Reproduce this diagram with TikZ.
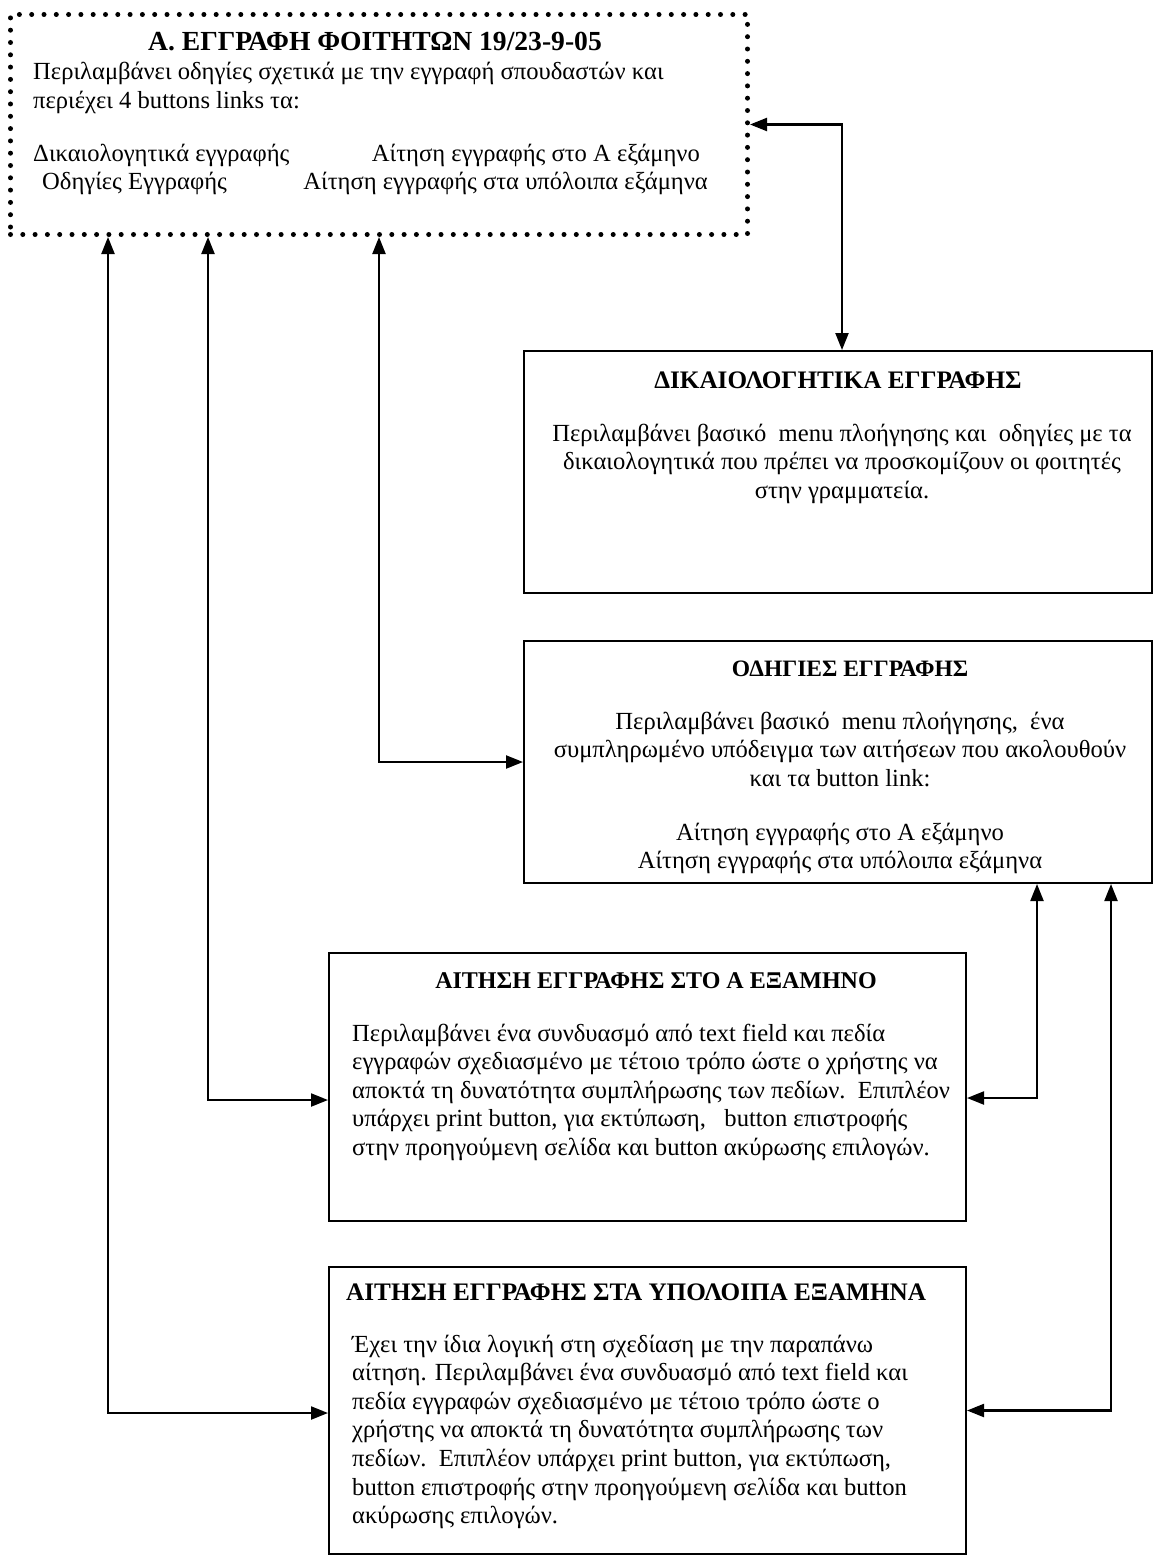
\documentclass[tikz,border=0pt]{standalone}
\usepackage{fontspec}
\setmainfont{Liberation Serif}
\usetikzlibrary{arrows.meta}
\newcommand\tblock[3]{\parbox[t]{#1}{#2#3}}

\begin{document}
\begin{tikzpicture}[x=1pt,y=-1pt,
  box/.style={draw, line width=2pt, inner sep=0pt, anchor=north west},
  dotbox/.style={draw, line width=5pt, line cap=round, dash pattern=on 0pt off 12.3pt,
    inner sep=0pt, anchor=north west},
  link/.style={line width=2.2pt,
    {Triangle[length=17pt,width=13pt]}-{Triangle[length=17pt,width=13pt]}},
  txt/.style={inner sep=0pt, font=\fontsize{24.6}{28.6}\selectfont},
  ttl/.style={txt, font=\fontsize{25.2}{28.6}\selectfont\bfseries},
  ]
\useasboundingbox (0,0) rectangle (1153,1555);

% boxes
\node[dotbox, minimum width=737, minimum height=220] (top) at (8,12) {};
\node[box, minimum width=628, minimum height=242] (dik) at (523,350) {};
\node[box, minimum width=628, minimum height=242] (odig) at (523,640) {};
\node[box, minimum width=637, minimum height=268] (boxA) at (328,952) {};
\node[box, minimum width=637, minimum height=287] (boxB) at (328,1266) {};

% registration overview
\node[ttl, anchor=base, font=\fontsize{27.6}{28.6}\selectfont\bfseries] (toptitle) at (375,51)
  {Α. ΕΓΓΡΑΦΗ ΦΟΙΤΗΤΩΝ 19/23-9-05};
\node[txt, anchor=base west] (toptext) at (33,80) {\tblock{700pt}{\raggedright}{%
  Περιλαμβάνει οδηγίες σχετικά με την εγγραφή σπουδαστών και\\
  περιέχει 4 buttons links τα:}};
\node[txt, anchor=base west] (lnk1) at (33,161) {Δικαιολογητικά εγγραφής};
\node[txt, anchor=base west] (lnk2) at (42,189) {Οδηγίες Εγγραφής};
\node[txt, anchor=base east] (lnk3) at (700,161) {Αίτηση εγγραφής στο Α εξάμηνο};
\node[txt, anchor=base east] (lnk4) at (708,189) {Αίτηση εγγραφής στα υπόλοιπα εξάμηνα};

% documents page
\node[ttl, anchor=base] (diktitle) at (838,388) {ΔΙΚΑΙΟΛΟΓΗΤΙΚΑ ΕΓΓΡΑΦΗΣ};
\node[txt, anchor=base] (diktext) at (842,441) {\tblock{620pt}{\centering}{%
  Περιλαμβάνει βασικό\ \ menu πλοήγησης και\ \ οδηγίες με τα\\
  δικαιολογητικά που πρέπει να προσκομίζουν οι φοιτητές\\
  στην γραμματεία.}};

% instructions page
\node[ttl, anchor=base, font=\fontsize{23.5}{28.6}\selectfont\bfseries] (odigtitle) at (850,676)
  {ΟΔΗΓΙΕΣ ΕΓΓΡΑΦΗΣ};
\node[txt, anchor=base] (odigtext) at (840,729) {\tblock{620pt}{\centering}{%
  Περιλαμβάνει βασικό\ \ menu πλοήγησης,\ \ ένα\\
  συμπληρωμένο υπόδειγμα των αιτήσεων που ακολουθούν\\
  και τα button link:\\[25.5pt]
  Αίτηση εγγραφής στο Α εξάμηνο\\
  Αίτηση εγγραφής στα υπόλοιπα εξάμηνα}};

% first-semester application
\node[ttl, anchor=base, font=\fontsize{24}{28.6}\selectfont\bfseries] (atitle) at (656,988)
  {ΑΙΤΗΣΗ ΕΓΓΡΑΦΗΣ ΣΤΟ Α ΕΞΑΜΗΝΟ};
\node[txt, anchor=base west] (atext) at (352,1041) {\tblock{610pt}{\raggedright}{%
  Περιλαμβάνει ένα συνδυασμό από text field και πεδία\\
  εγγραφών σχεδιασμένο με τέτοιο τρόπο ώστε ο χρήστης να\\
  αποκτά τη δυνατότητα συμπλήρωσης των πεδίων.\ \ Επιπλέον\\
  υπάρχει print button, για εκτύπωση,\ \ \ button επιστροφής\\
  στην προηγούμενη σελίδα και button ακύρωσης επιλογών.}};

% remaining-semesters application
\node[ttl, anchor=base west] (btitle) at (346,1300) {ΑΙΤΗΣΗ ΕΓΓΡΑΦΗΣ ΣΤΑ ΥΠΟΛΟΙΠΑ ΕΞΑΜΗΝΑ};
\node[txt, anchor=base west] (btext) at (352,1352) {\tblock{610pt}{\raggedright}{%
  Έχει την ίδια λογική στη σχεδίαση με την παραπάνω\\
  αίτηση. Περιλαμβάνει ένα συνδυασμό από text field και\\
  πεδία εγγραφών σχεδιασμένο με τέτοιο τρόπο ώστε ο\\
  χρήστης να αποκτά τη δυνατότητα συμπλήρωσης των\\
  πεδίων.\ \ Επιπλέον υπάρχει print button, για εκτύπωση,\\
  button επιστροφής στην προηγούμενη σελίδα και button\\
  ακύρωσης επιλογών.}};

% connector columns
\coordinate (c108) at (108,0);
\coordinate (c208) at (208,0);
\coordinate (c1037) at (1037,0);
\coordinate (c1111) at (1111,0);

% links
\draw[link] (top.east) -| ([xshift=4pt]dik.north);
\draw[link] (top.south) |- (odig.west);
\draw[link] (top.south -| c208) |- ([yshift=-13pt]boxA.west);
\draw[link] (top.south -| c108) |- ([yshift=-2.5pt]boxB.west);
\draw[link] (odig.south -| c1037) |- ([yshift=-11pt]boxA.east);
\draw[link] (odig.south -| c1111) |- (boxB.east);
\end{tikzpicture}
\end{document}
